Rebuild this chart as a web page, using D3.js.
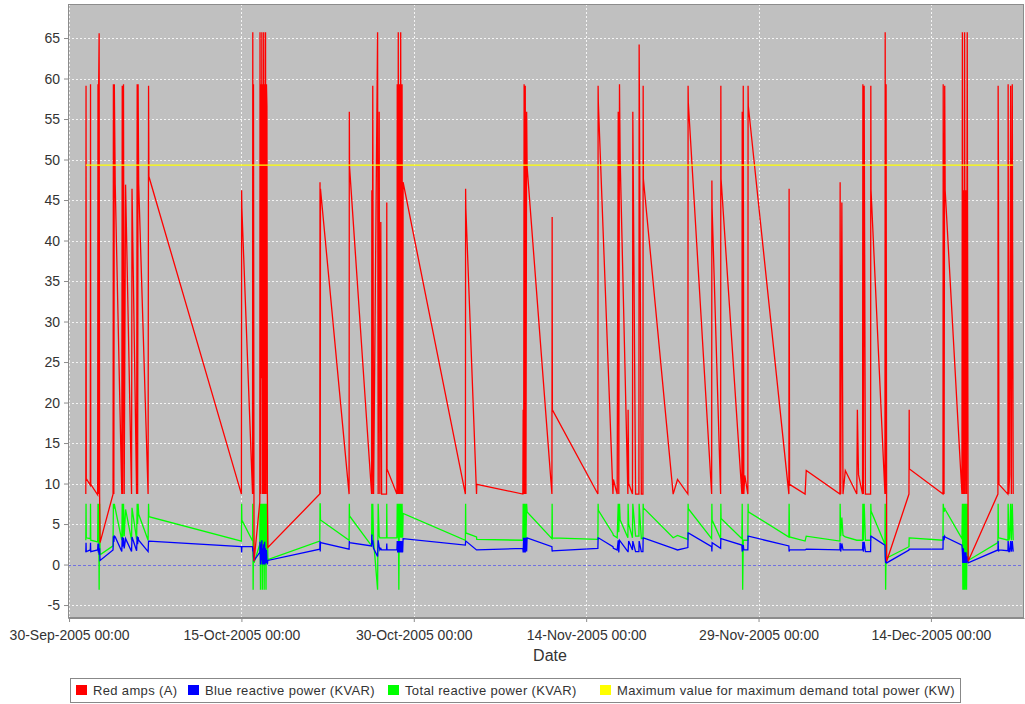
<!DOCTYPE html>
<html>
<head>
<meta charset="utf-8">
<script src="https://cdn.jsdelivr.net/npm/d3@7"></script>
<style>
body { margin: 0; background: #fff; }
svg text { font-family: "Liberation Sans", Arial, sans-serif; fill: #333; }
</style>
</head>
<body>
<svg id="chart" width="1025" height="704"></svg>
<script>
// readings, days after 30-Sep-2005 00:00
var dayOffsets = [
  1.46, 1.48, 1.50,
  1.85, 1.87, 1.89,
  2.49, 2.52, 2.55, 2.58, 2.62, 2.66, 2.70,
  3.83, 3.86, 3.90, 3.94, 4.02,
  4.59, 4.63, 4.66, 4.74, 4.80, 4.92,
  5.44, 5.48,
  5.88, 5.93, 5.97, 6.01, 6.06,
  6.88, 6.92, 6.95,
  15.00, 15.02, 15.04,
  15.97, 15.99, 16.02, 16.05, 16.10,
  16.60, 16.62, 16.66, 16.70, 16.74, 16.78, 16.82, 16.86, 16.90, 16.94, 16.98, 17.02, 17.06, 17.10, 17.14, 17.18, 17.22, 17.26, 17.30,
  21.82, 21.84, 21.86, 21.88,
  24.37, 24.39, 24.41,
  26.33, 26.35, 26.38, 26.43, 26.50, 26.85, 26.90, 26.99, 27.05, 27.13, 27.20,
  27.63, 27.65, 27.67,
  28.53, 28.56, 28.60, 28.65, 28.70, 28.75, 28.80, 28.86, 28.92, 28.98, 29.03, 29.07,
  34.49, 34.51, 34.53,
  35.46, 35.48,
  39.49, 39.52, 39.56, 39.60, 39.65, 39.70, 39.76, 39.82, 39.86,
  42.02, 42.04, 42.06,
  46.02, 46.04, 46.06, 47.33, 47.37, 47.70,
  47.79, 47.84, 47.90, 47.96, 48.63, 48.65, 48.70, 49.03,
  49.06, 49.30,
  49.59, 49.61, 49.80,
  49.94, 49.96, 49.98, 52.57, 52.95, 53.85,
  53.87, 53.89,
  55.92, 55.94, 55.96,
  56.70, 56.72, 56.74,
  58.55, 58.58, 58.62, 58.67, 58.72, 58.80,
  59.07, 59.09, 59.11,
  62.64, 62.66, 62.70, 64.05, 64.15, 67.08,
  67.10, 67.15, 67.25, 67.35, 67.55, 68.55, 68.60, 68.70, 69.05,
  69.08, 69.12, 69.19, 69.30,
  69.75, 69.77, 69.79,
  71.00, 71.02, 71.06, 71.10, 71.15, 73.09, 73.11, 73.13,
  76.05, 76.07, 76.14, 76.20, 76.24,
  77.70, 77.74, 77.78, 77.83, 77.88, 77.93, 77.98, 78.04, 78.10, 78.16, 78.24,
  80.83, 80.85, 80.88, 80.92, 81.70,
  81.72, 81.78, 81.85, 81.94, 82.00, 82.08, 82.16
];

var redAmps = [
  8.7, 59.1, 10.6,
  9.8, 59.3, 9.9,
  8.6, 59.3, 8.7, 59.3, 65.6, 8.7, 2.7,
  8.7, 59.3, 8.7, 59.3, 46.9,
  8.7, 59.1, 8.7, 59.3, 8.7, 46.9,
  8.7, 46.4,
  8.7, 59.3, 8.7, 59.3, 47.0,
  8.7, 59.1, 47.9,
  8.7, 46.2, 44.0,
  8.7, 65.7, 8.7, 59.3, 0.4,
  7.7, 65.7, 8.7, 59.3, 23.0, 65.7, 8.7, 59.3, 8.7, 65.7, 8.7, 59.3, 8.7, 65.7, 8.7, 59.3, 56.6, 8.7, 2.1,
  8.7, 47.2, 8.7, 46.4,
  8.7, 55.9, 49.1,
  8.7, 46.2, 8.7, 59.1, 8.7, 65.7, 8.7, 55.9, 8.7, 42.3, 8.7,
  8.7, 44.7, 11.8,
  8.7, 59.3, 8.7, 65.7, 8.7, 59.3, 8.7, 65.7, 8.7, 59.3, 8.7, 47.2,
  8.7, 46.4, 44.0,
  8.7, 9.9,
  8.7, 19.1, 8.7, 59.3, 8.7, 59.1, 8.7, 55.9, 49.1,
  8.7, 42.9, 19.1,
  8.7, 59.1, 57.0, 8.7, 10.5, 8.7,
  55.9, 8.7, 59.3, 50.0, 8.7, 19.1, 10.0, 8.7,
  55.9, 8.7,
  8.7, 64.2, 8.7,
  8.7, 59.1, 47.6, 8.7, 10.5, 8.7,
  59.1, 57.0,
  8.7, 47.4, 44.0,
  8.7, 59.1, 47.6,
  8.7, 55.9, 8.7, 59.1, 8.7, 11.0,
  8.7, 59.1, 56.6,
  8.7, 46.4, 9.9, 8.7, 11.6, 8.7,
  47.2, 8.7, 44.7, 8.7, 11.6, 8.7, 19.1, 11.1, 8.7,
  59.3, 8.7, 59.1, 8.7,
  8.7, 59.1, 46.2,
  8.7, 65.7, 8.7, 59.3, 0.4, 8.7, 19.1, 11.8,
  8.7, 59.3, 8.7, 59.1, 46.2,
  8.7, 65.7, 8.7, 46.2, 8.7, 65.7, 8.7, 46.2, 8.7, 65.7, 0.4,
  8.7, 59.1, 46.2, 9.9, 8.7,
  59.3, 8.7, 11.1, 59.1, 8.7, 59.3, 8.7
];

var blueKvar = [
  1.5, 2.7, 1.6,
  1.8, 2.7, 1.6,
  1.8, 2.6, 1.5, 2.6, 1.2, 2.0, 0.5,
  1.8, 3.5, 2.8, 3.5, 3.4,
  1.6, 3.4, 2.2, 3.3, 2.0, 3.2,
  1.6, 3.4,
  1.7, 3.5, 2.5, 3.4, 3.0,
  1.6, 2.9, 2.9,
  2.2, 1.5, 2.2,
  2.2, 1.6, 2.0, 1.0, 0.5,
  1.5, 2.8, 0.0, 2.5, 0.5, 3.0, 0.0, 2.0, 0.0, 2.5, 0.0, 2.8, 0.0, 2.0, 0.2, 1.8, 0.5, 0.0, 0.5,
  1.9, 2.9, 1.6, 2.7,
  1.9, 2.9, 2.7,
  2.3, 3.7, 2.5, 3.0, 2.0, 1.0, 3.0, 2.2, 1.8, 2.0, 1.8,
  1.8, 2.6, 1.8,
  1.8, 2.9, 1.5, 2.9, 1.5, 2.9, 1.5, 2.9, 1.5, 2.9, 1.5, 3.2,
  2.4, 2.9, 2.9,
  1.8, 1.8,
  2.0, 1.5, 3.3, 1.5, 3.3, 1.5, 3.3, 1.6, 3.3,
  2.2, 1.6, 1.7,
  2.0, 3.3, 3.3, 2.2, 2.0, 1.8,
  3.0, 1.5, 3.0, 2.9, 1.6, 1.6, 2.9, 1.8,
  2.9, 1.6,
  1.6, 2.9, 1.6,
  1.6, 3.3, 3.3, 2.0, 1.8, 2.1,
  3.9, 3.9,
  2.2, 1.6, 2.7,
  2.0, 3.2, 3.2,
  2.4, 1.6, 2.0, 2.4, 1.8, 1.8,
  1.8, 3.5, 3.5,
  2.3, 1.6, 1.8, 1.8, 1.9, 1.8,
  2.7, 1.6, 2.6, 1.8, 1.8, 1.8, 1.8, 1.8, 1.8,
  2.8, 1.6, 2.8, 1.6,
  1.6, 3.5, 3.5,
  2.4, 1.0, 0.2, 0.5, 0.2, 1.8, 1.9, 1.9,
  1.9, 3.5, 3.0, 3.5, 3.4,
  2.4, 1.5, 0.2, 2.0, 0.2, 1.5, 0.2, 1.5, 0.2, 1.0, 0.2,
  1.8, 2.9, 1.6, 1.8, 1.7,
  2.9, 1.6, 1.6, 2.9, 1.6, 2.9, 1.6
];

var totalKvar = [
  3.0, 7.5, 3.3,
  3.2, 7.5, 3.0,
  2.8, 7.5, 3.0, 7.5, -3.1, 7.5, 1.2,
  2.3, 7.5, 6.9, 7.5, 6.9,
  3.0, 7.5, 3.0, 7.5, 3.5, 6.8,
  3.0, 7.0,
  3.1, 7.5, 5.0, 7.5, 6.2,
  3.0, 7.5, 5.9,
  2.9, 7.5, 5.5,
  2.9, 7.5, -3.1, 3.0, 0.2,
  2.5, 7.5, -3.1, 7.5, 0.0, 7.5, -3.1, 7.5, 1.0, 7.5, -3.1, 7.5, 0.0, 7.5, -3.1, 7.5, 2.0, 7.5, 0.6,
  2.9, 7.5, 7.5, 5.5,
  3.0, 7.5, 6.0,
  2.3, 7.5, 3.5, 7.5, 3.0, -3.1, 7.5, 3.5, 3.3, 3.3, 3.3,
  3.3, 7.5, 3.3,
  3.3, 7.5, 3.3, 7.5, -3.1, 7.5, 3.3, 7.5, 3.3, 7.5, 3.3, 6.3,
  3.0, 7.5, 3.9,
  3.4, 3.1,
  3.0, 7.5, 3.0, 7.5, 3.0, 7.5, 3.0, 7.5, 6.5,
  3.2, 7.5, 3.3,
  3.1, 7.5, 6.7, 3.8, 3.6, 3.3,
  7.5, 4.0, 7.5, 5.5, 3.3, 7.5, 5.0, 3.3,
  7.5, 3.5,
  3.5, 7.5, 3.2,
  3.2, 7.5, 7.0, 3.3, 3.6, 3.1,
  7.5, 6.9,
  3.2, 7.5, 5.5,
  3.2, 7.5, 5.7,
  3.2, 7.5, -3.1, 3.0, 3.0, 3.0,
  3.0, 7.5, 6.5,
  3.4, 7.5, 3.4, 2.9, 3.5, 2.9,
  7.5, 3.5, 5.8, 3.6, 3.4, 3.0, 3.0, 3.0, 3.0,
  7.5, 3.0, 7.5, 3.0,
  3.0, 7.5, 6.6,
  2.5, 7.5, -3.1, 2.0, 0.8, 2.2, 3.3, 3.3,
  3.0, 7.5, 6.5, 7.0, 6.8,
  3.2, 7.5, -3.1, 7.5, -3.1, 7.5, -3.1, 7.5, -3.1, 7.5, 0.5,
  2.7, 7.5, 3.3, 3.3, 3.0,
  7.5, 3.0, 3.3, 7.5, 3.0, 7.5, 3.0
];

// max demand limit, flat across the recorded period
var maxDemandDays = [1.46, 82.16];
var maxDemandKw = [49.3, 49.3];

var dateTicks = ["2005-09-30", "2005-10-15", "2005-10-30", "2005-11-14", "2005-11-29", "2005-12-14"];
var valueTicks = [-5, 0, 5, 10, 15, 20, 25, 30, 35, 40, 45, 50, 55, 60, 65];

var seriesNames = ["Red amps (A)", "Blue reactive power (KVAR)", "Total reactive power (KVAR)", "Maximum value for maximum demand total power (KW)"];
var seriesColours = ["#ff0000", "#0000ff", "#00ff00", "#ffff00"];

var plotLeft = 68, plotRight = 1024, plotTop = 4, plotBottom = 618;
var dayMs = 864e5;
var start = Date.UTC(2005, 8, 30);
function toDate(d) { return new Date(start + d * dayMs); }

var x = d3.scaleUtc()
  .domain([toDate(-0.09), toDate(83.1)])
  .range([plotLeft, plotRight]);

var y = d3.scaleLinear()
  .domain([-6.6, 69.2])
  .range([plotBottom, plotTop]);

var svg = d3.select("#chart");

// plot background
svg.append("rect")
  .attr("x", plotLeft).attr("y", plotTop)
  .attr("width", plotRight - plotLeft).attr("height", plotBottom - plotTop)
  .attr("fill", "#c0c0c0");

var parseDay = d3.utcParse("%Y-%m-%d");
var tickDates = dateTicks.map(parseDay);

// gridlines
svg.append("g").selectAll("line")
  .data(tickDates)
  .enter().append("line")
  .attr("x1", function (d) { return Math.round(x(d)) + 0.5; })
  .attr("x2", function (d) { return Math.round(x(d)) + 0.5; })
  .attr("y1", plotTop).attr("y2", plotBottom)
  .attr("stroke", "#f4f4f4")
  .attr("stroke-dasharray", "2,2");

svg.append("g").selectAll("line")
  .data(valueTicks.filter(function (v) { return v !== 0; }))
  .enter().append("line")
  .attr("x1", plotLeft).attr("x2", plotRight)
  .attr("y1", function (d) { return Math.round(y(d)) + 0.5; })
  .attr("y2", function (d) { return Math.round(y(d)) + 0.5; })
  .attr("stroke", "#f4f4f4")
  .attr("stroke-dasharray", "2,2");

// zero baseline
svg.append("line")
  .attr("x1", plotLeft).attr("x2", plotRight)
  .attr("y1", Math.round(y(0)) + 0.5).attr("y2", Math.round(y(0)) + 0.5)
  .attr("stroke", "#7070e0")
  .attr("stroke-dasharray", "3,2");

// series
svg.append("clipPath").attr("id", "plotClip")
  .append("rect")
  .attr("x", plotLeft).attr("y", plotTop)
  .attr("width", plotRight - plotLeft).attr("height", plotBottom - plotTop);

var line = d3.line()
  .x(function (d) { return x(toDate(d[0])); })
  .y(function (d) { return y(d[1]); });

var seriesValues = [redAmps, blueKvar, totalKvar];
var lines = svg.append("g").attr("clip-path", "url(#plotClip)");

// drawn back to front: total, blue, red, then the limit line
[2, 1, 0].forEach(function (s) {
  var pts = dayOffsets.map(function (d, i) { return [d, seriesValues[s][i]]; });
  lines.append("path")
    .attr("d", line(pts))
    .attr("fill", "none")
    .attr("stroke", seriesColours[s])
    .attr("stroke-width", 1.3)
    .attr("stroke-linejoin", "miter");
});

lines.append("path")
  .attr("d", line(maxDemandDays.map(function (d, i) { return [d, maxDemandKw[i]]; })))
  .attr("fill", "none")
  .attr("stroke", seriesColours[3])
  .attr("stroke-width", 1.2);

// plot outline
svg.append("rect")
  .attr("x", plotLeft + 0.5).attr("y", plotTop + 0.5)
  .attr("width", plotRight - plotLeft - 1).attr("height", plotBottom - plotTop - 1)
  .attr("fill", "none")
  .attr("stroke", "#8c8c8c");

// axes
var xAxis = svg.append("g")
  .attr("transform", "translate(0," + plotBottom + ")")
  .call(d3.axisBottom(x).tickValues(tickDates).tickFormat(d3.utcFormat("%d-%b-%Y %H:%M")).tickSize(4).tickSizeOuter(0));
xAxis.select(".domain").attr("stroke", "#8c8c8c");
xAxis.selectAll(".tick line").attr("stroke", "#8c8c8c");
xAxis.selectAll(".tick text")
  .attr("dy", "1.1em")
  .style("font-size", "14px")
  .style("font-family", "'Liberation Sans', Arial, sans-serif")
  .attr("fill", "#333");

var yAxis = svg.append("g")
  .attr("transform", "translate(" + plotLeft + ",0)")
  .call(d3.axisLeft(y).tickValues(valueTicks).tickFormat(function (v) { return String(v); }).tickSize(4).tickSizeOuter(0));
yAxis.select(".domain").attr("stroke", "#8c8c8c");
yAxis.selectAll(".tick line").attr("stroke", "#8c8c8c");
yAxis.selectAll(".tick text")
  .attr("x", -8)
  .style("font-size", "14px")
  .style("font-family", "'Liberation Sans', Arial, sans-serif")
  .attr("fill", "#333");

svg.append("text")
  .attr("x", 550).attr("y", 661)
  .attr("text-anchor", "middle")
  .style("font-size", "16px")
  .text("Date");

// legend
var legend = svg.append("g");
legend.append("rect")
  .attr("x", 70.5).attr("y", 678.5)
  .attr("width", 890).attr("height", 24)
  .attr("fill", "#fff")
  .attr("stroke", "#888");

var legendX = [76, 188, 388, 600];
seriesNames.forEach(function (name, i) {
  legend.append("rect")
    .attr("x", legendX[i]).attr("y", 685)
    .attr("width", 11).attr("height", 10)
    .attr("fill", seriesColours[i]);
  legend.append("text")
    .attr("x", legendX[i] + 17).attr("y", 695)
    .style("font-size", "13px")
    .style("letter-spacing", "0.35px")
    .attr("fill", "#222")
    .text(name);
});
</script>
</body>
</html>
